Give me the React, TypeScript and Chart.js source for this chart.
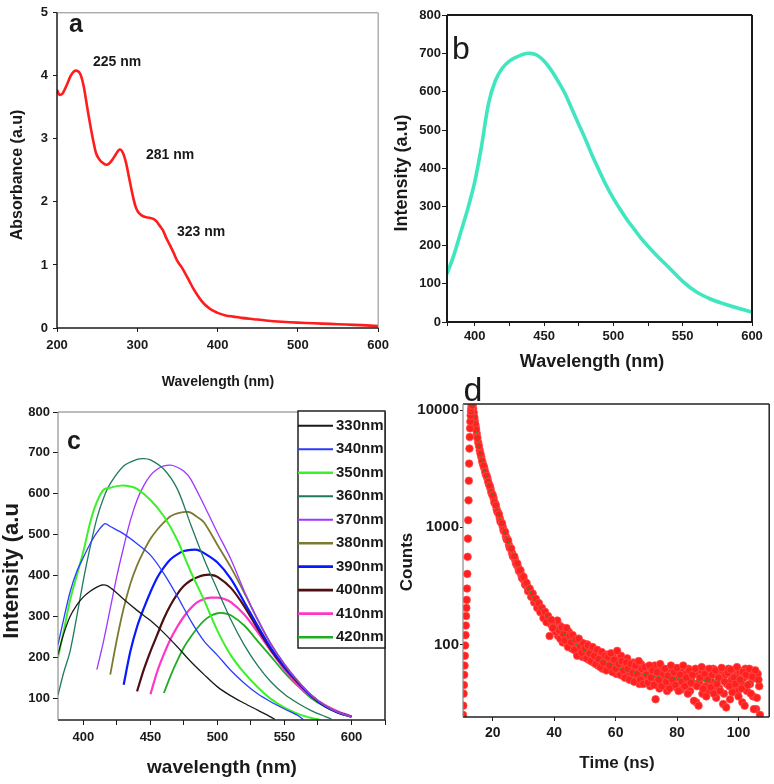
import React, { useEffect, useRef } from 'react';
import { Chart, registerables } from 'chart.js';
Chart.register(...registerables);

const FONT = '"Liberation Sans", Arial, Helvetica, sans-serif';

// ---------- Panel a: UV-Vis absorbance ----------
const absWavelength = [200, 203, 207, 212, 217, 221, 225, 229, 233, 237, 241, 245, 249, 253, 257, 261, 265, 269, 273, 278, 282, 286, 290, 294, 298, 301, 305, 310, 315, 320, 324, 328, 332, 336, 340, 345, 350, 355, 360, 365, 370, 375, 380, 385, 390, 395, 400, 410, 420, 430, 445, 460, 480, 500, 520, 540, 560, 580, 600];
const absValues = [3.78, 3.7, 3.72, 3.85, 4.0, 4.07, 4.08, 4.03, 3.85, 3.55, 3.25, 2.98, 2.76, 2.67, 2.62, 2.59, 2.61, 2.67, 2.75, 2.83, 2.78, 2.62, 2.37, 2.12, 1.92, 1.84, 1.79, 1.76, 1.75, 1.73, 1.69, 1.62, 1.55, 1.43, 1.33, 1.2, 1.06, 0.97, 0.86, 0.74, 0.62, 0.52, 0.43, 0.36, 0.31, 0.27, 0.24, 0.2, 0.18, 0.16, 0.14, 0.12, 0.1, 0.085, 0.075, 0.065, 0.055, 0.045, 0.03];
const absXTicks = [200, 300, 400, 500, 600];
const absYTicks = [0, 1, 2, 3, 4, 5];
const absPeakLabels = ['225 nm', '281 nm', '323 nm'];

// ---------- Panel b: emission spectrum ----------
const emWavelength = [380, 385, 390, 395, 400, 405, 410, 415, 420, 425, 430, 435, 440, 445, 450, 455, 460, 465, 470, 475, 480, 485, 490, 495, 500, 505, 510, 515, 520, 530, 540, 550, 560, 570, 580, 590, 600];
const emIntensity = [125, 175, 235, 295, 365, 460, 570, 630, 662, 680, 690, 698, 700, 695, 680, 657, 628, 596, 556, 515, 475, 432, 393, 355, 322, 293, 266, 242, 218, 178, 142, 106, 78, 60, 47, 36, 26];
const emXTicks = [380, 400, 425, 450, 475, 500, 525, 550, 575, 600];
const emXLabels = [400, 450, 500, 550, 600];
const emYTicks = [0, 100, 200, 300, 400, 500, 600, 700, 800];

// ---------- Panel c: excitation-dependent emission ----------
const exLabels = ['330nm', '340nm', '350nm', '360nm', '370nm', '380nm', '390nm', '400nm', '410nm', '420nm'];
const exColors = ['#1a1a1a', '#2b3dff', '#3cf02a', '#1f7a5c', '#a035ff', '#7c7a30', '#0818ff', '#4d0f12', '#ff35c8', '#1fae22'];
const exWidths = [1.3, 1.3, 2, 1.3, 1.3, 1.8, 2.2, 2.2, 2.2, 1.8];
const c330X = [381, 385, 390, 395, 400, 405, 410, 414, 418, 424, 430, 440, 450, 460, 470, 480, 490, 500, 510, 520, 530, 540, 543];
const c330Y = [207, 255, 300, 328, 348, 362, 372, 377, 375, 360, 342, 315, 290, 260, 226, 190, 158, 128, 106, 88, 71, 54, 48];
const c340X = [381, 385, 390, 395, 400, 405, 410, 416, 420, 430, 440, 450, 460, 470, 480, 490, 500, 510, 520, 530, 540, 550, 560, 564];
const c340Y = [231, 290, 360, 410, 445, 478, 505, 527, 520, 502, 478, 450, 405, 350, 290, 240, 205, 168, 137, 111, 91, 74, 58, 48];
const c350X = [381, 385, 390, 395, 400, 405, 410, 415, 420, 428, 435, 440, 450, 460, 470, 480, 490, 500, 510, 520, 530, 540, 550, 560, 570, 576];
const c350Y = [200, 260, 340, 400, 460, 530, 580, 610, 615, 620, 618, 612, 585, 545, 487, 410, 340, 265, 205, 162, 127, 98, 77, 62, 52, 48];
const c360X = [381, 385, 390, 395, 400, 405, 410, 415, 420, 430, 440, 445, 450, 460, 470, 480, 490, 500, 510, 520, 530, 540, 550, 560, 570, 580, 585];
const c360Y = [108, 160, 215, 300, 390, 470, 540, 590, 625, 668, 684, 686, 683, 660, 612, 525, 440, 365, 292, 230, 180, 140, 110, 88, 70, 56, 50];
const c370X = [410, 415, 420, 425, 430, 435, 440, 445, 450, 455, 460, 465, 470, 475, 480, 490, 500, 510, 520, 530, 540, 550, 560, 570, 580, 590, 600];
const c370Y = [170, 240, 320, 400, 470, 535, 585, 620, 645, 660, 668, 670, 665, 655, 636, 572, 505, 440, 362, 293, 232, 183, 142, 108, 83, 66, 55];
const c380X = [420, 425, 430, 435, 440, 445, 450, 455, 460, 465, 470, 476, 480, 485, 490, 500, 510, 520, 530, 540, 550, 560, 570, 580, 590, 600];
const c380Y = [158, 245, 320, 380, 425, 460, 490, 512, 530, 545, 552, 556, 554, 543, 530, 475, 420, 358, 292, 232, 183, 142, 108, 83, 66, 55];
const c390X = [430, 435, 440, 445, 450, 455, 460, 465, 470, 475, 480, 485, 490, 500, 510, 520, 530, 540, 550, 560, 570, 580, 590, 600];
const c390Y = [133, 215, 275, 320, 360, 395, 420, 440, 452, 460, 463, 463, 455, 432, 392, 335, 277, 222, 177, 140, 106, 81, 65, 55];
const c400X = [440, 445, 450, 455, 460, 465, 470, 475, 480, 485, 490, 495, 500, 510, 520, 530, 540, 550, 560, 570, 580, 590, 600];
const c400Y = [117, 170, 215, 255, 295, 328, 355, 375, 388, 396, 401, 402, 397, 370, 325, 270, 218, 175, 138, 106, 81, 65, 55];
const c410X = [450, 455, 460, 465, 470, 475, 480, 485, 490, 495, 500, 505, 510, 520, 530, 540, 550, 560, 570, 580, 590, 600];
const c410Y = [110, 165, 208, 245, 275, 300, 320, 335, 343, 346, 346, 343, 335, 305, 262, 215, 170, 132, 104, 84, 68, 56];
const c420X = [460, 465, 470, 475, 480, 485, 490, 495, 500, 505, 510, 520, 530, 540, 550, 560, 570, 580, 590, 600];
const c420Y = [113, 155, 192, 225, 250, 272, 290, 302, 308, 308, 303, 278, 240, 202, 163, 130, 100, 80, 66, 56];
const exXTicks = [400, 425, 450, 475, 500, 525, 550, 575, 600, 625];
const exXLabels = [400, 450, 500, 550, 600];
const exYTicks = [100, 200, 300, 400, 500, 600, 700, 800];

// ---------- Panel d: fluorescence decay ----------
const riseTime = [10.3, 10.4, 10.5, 10.6, 10.7, 10.8, 10.9, 11.0, 11.1, 11.2, 11.3, 11.4, 11.5, 11.6, 11.7, 11.8, 11.9, 12.0, 12.1, 12.2, 12.3, 12.4, 12.5, 12.6, 12.7, 12.8, 12.9, 13.0, 13.1, 13.2, 13.3];
const riseCounts = [25, 30, 38, 45, 55, 66, 80, 98, 120, 145, 175, 205, 240, 300, 400, 560, 800, 1150, 1700, 2500, 3500, 4700, 5900, 7000, 8000, 9000, 9800, 10400, 10900, 11100, 11000];
const decayTime = [13.4, 13.6, 13.8, 14.0, 14.3, 14.6, 15.0, 15.5, 16.0, 16.5, 17.0, 17.5, 18.0, 18.5, 19.0, 19.5, 20.0, 20.5, 21.0, 21.5, 22.0, 22.5, 23.0, 23.5, 24.0, 24.5, 25.0, 25.5, 26.0, 26.5, 27.0, 27.5, 28.0, 28.5, 29.0, 29.5, 30.0, 30.5, 31.0, 31.5, 32.0, 32.5, 33.0, 33.5, 34.0, 34.5, 35.0, 35.5, 36.0, 36.5, 37.0, 37.5, 38.0, 38.5, 39.0, 39.5];
const decayCounts = [10900, 10300, 9500, 8700, 7600, 6800, 5800, 4950, 4250, 3700, 3350, 2980, 2750, 2450, 2260, 2000, 1880, 1640, 1540, 1360, 1290, 1120, 1080, 940, 910, 790, 770, 670, 660, 570, 565, 495, 490, 425, 430, 370, 378, 325, 335, 285, 300, 255, 272, 228, 245, 205, 226, 188, 205, 168, 190, 155, 175, 118, 162, 138];
const decay2Time = [14.15, 14.45, 14.8, 15.25, 15.75, 16.25, 16.75, 17.25, 17.75, 18.25, 18.75, 19.25, 19.75, 20.25, 20.75, 21.25, 21.75, 22.25, 22.75, 23.25, 23.75, 24.25, 24.75, 25.25, 25.75, 26.25, 26.75, 27.25, 27.75, 28.25, 28.75, 29.25, 29.75, 30.25, 30.75, 31.25, 31.75, 32.25, 32.75, 33.25, 33.75, 34.25, 34.75, 35.25, 35.75, 36.25, 36.75, 37.25, 37.75, 38.25, 38.75, 39.25, 39.75];
const decay2Counts = [8100, 7200, 6300, 5300, 4550, 4000, 3500, 3200, 2820, 2630, 2330, 2150, 1920, 1780, 1600, 1430, 1330, 1200, 1100, 1010, 925, 840, 790, 710, 660, 605, 560, 530, 480, 455, 420, 395, 365, 350, 322, 310, 288, 282, 258, 250, 232, 228, 210, 205, 192, 190, 172, 176, 160, 164, 150, 154, 140];
const tailTime = [40.0, 40.5, 41.0, 41.5, 42.0, 42.5, 43.0, 43.5, 44.0, 44.5, 45.0, 45.5, 46.0, 46.5, 47.0, 47.5, 48.0, 48.5, 49.0, 49.5, 50.0, 50.5, 51.0, 51.5, 52.0, 52.5, 53.0, 53.5, 54.0, 54.5, 55.0, 55.5, 56.0, 56.5, 57.0, 57.5, 58.0, 58.5, 59.0, 59.5, 60.0, 60.5, 61.0, 61.5, 62.0, 62.5, 63.0, 63.5, 64.0, 64.5, 65.0, 65.5, 66.0, 66.5, 67.0, 67.5, 68.0, 68.5, 69.0, 69.5, 70.0, 70.5, 71.0, 71.5, 72.0, 72.5, 73.0, 73.5, 74.0, 74.5, 75.0, 75.5, 76.0, 76.5, 77.0, 77.5, 78.0, 78.5, 79.0, 79.5, 80.0, 80.5, 81.0, 81.5, 82.0, 82.5, 83.0, 83.5, 84.0, 84.5, 85.0, 85.5, 86.0, 86.5, 87.0, 87.5, 88.0, 88.5, 89.0, 89.5, 90.0, 90.5, 91.0, 91.5, 92.0, 92.5, 93.0, 93.5, 94.0, 94.5, 95.0, 95.5, 96.0, 96.5, 97.0, 97.5, 98.0, 98.5, 99.0, 99.5, 100.0, 100.5, 101.0, 101.5, 102.0, 102.5, 103.0, 103.5, 104.0, 104.5, 105.0, 105.5, 106.0, 106.5, 107.0];
const tailCounts = [150, 128, 160, 133, 112, 140, 122, 108, 138, 95, 118, 104, 120, 90, 110, 80, 112, 96, 85, 102, 92, 76, 98, 84, 72, 95, 80, 68, 90, 75, 64, 86, 70, 80, 60, 78, 66, 84, 58, 74, 62, 88, 68, 55, 72, 60, 52, 70, 62, 50, 68, 57, 48, 66, 56, 72, 50, 62, 46, 64, 55, 47, 66, 52, 60, 45, 34, 58, 50, 68, 44, 56, 62, 48, 54, 42, 66, 50, 58, 45, 63, 40, 55, 48, 66, 44, 52, 38, 60, 47, 55, 33, 62, 44, 30, 52, 64, 42, 56, 36, 50, 62, 43, 55, 38, 60, 46, 52, 40, 63, 31, 48, 29, 57, 44, 61, 39, 52, 46, 64, 36, 50, 42, 58, 30, 55, 45, 62, 38, 53, 28, 60, 35, 50, 25];
const tail2Time = [40.25, 40.75, 41.25, 41.75, 42.25, 42.75, 43.25, 43.75, 44.25, 44.75, 45.25, 45.75, 46.25, 46.75, 47.25, 47.75, 48.25, 48.75, 49.25, 49.75, 50.25, 50.75, 51.25, 51.75, 52.25, 52.75, 53.25, 53.75, 54.25, 54.75, 55.25, 55.75, 56.25, 56.75, 57.25, 57.75, 58.25, 58.75, 59.25, 59.75, 60.25, 60.75, 61.25, 61.75, 62.25, 62.75, 63.25, 63.75, 64.25, 64.75, 65.25, 65.75, 66.25, 66.75, 67.25, 67.75, 68.25, 68.75, 69.25, 69.75, 70.25, 70.75, 71.25, 71.75, 72.25, 72.75, 73.25, 73.75, 74.25, 74.75, 75.25, 75.75, 76.25, 76.75, 77.25, 77.75, 78.25, 78.75, 79.25, 79.75, 80.25, 80.75, 81.25, 81.75, 82.25, 82.75, 83.25, 83.75, 84.25, 84.75, 85.25, 85.75, 86.25, 86.75, 87.25, 87.75, 88.25, 88.75, 89.25, 89.75, 90.25, 90.75, 91.25, 91.75, 92.25, 92.75, 93.25, 93.75, 94.25, 94.75, 95.25, 95.75, 96.25, 96.75, 97.25, 97.75, 98.25, 98.75, 99.25, 99.75, 100.25, 100.75, 101.25, 101.75, 102.25, 102.75, 103.25, 103.75, 104.25, 104.75, 105.25, 105.75, 106.25, 106.75];
const tail2Counts = [135, 152, 118, 145, 126, 104, 132, 115, 100, 128, 108, 92, 112, 100, 86, 106, 88, 104, 78, 94, 84, 100, 74, 90, 80, 70, 88, 76, 66, 84, 72, 62, 78, 68, 82, 64, 74, 60, 78, 66, 56, 74, 63, 80, 54, 68, 58, 76, 56, 64, 50, 70, 60, 52, 64, 46, 68, 54, 60, 48, 62, 56, 44, 60, 52, 66, 48, 55, 42, 60, 51, 46, 58, 40, 62, 52, 46, 56, 62, 43, 52, 58, 41, 60, 50, 56, 45, 62, 40, 53, 58, 46, 32, 56, 48, 60, 38, 52, 44, 61, 40, 54, 48, 62, 44, 35, 57, 42, 52, 60, 38, 55, 46, 62, 34, 50, 58, 44, 54, 40, 60, 47, 32, 52, 62, 40, 54, 46, 60, 36, 52, 28, 56, 44];
const fitTime = [13.2, 14, 15, 16, 17, 18, 20, 22, 24, 26, 28, 30, 33, 36, 40, 45, 50, 55, 60, 70, 80, 90, 100, 107];
const fitCounts = [10800, 8600, 5800, 4200, 3300, 2700, 1850, 1280, 890, 645, 475, 365, 255, 195, 145, 112, 88, 74, 64, 55, 51, 49, 48, 48];
const decayXTicks = [20, 40, 60, 80, 100];
const decayYTicks = [100, 1000, 10000];

// ---------- helpers ----------
function pts(xs: number[], ys: number[]) {
  return xs.map((x, i) => ({ x, y: ys[i] }));
}

function axis(o: any) {
  return {
    type: o.type || 'linear',
    min: o.min,
    max: o.max,
    afterBuildTicks: (s: any) => {
      s.ticks = o.ticks.map((v: number) => ({ value: v }));
    },
    afterFit: (s: any) => {
      if (o.dir === 'x') s.height = o.fixed;
      else s.width = o.fixed;
    },
    grid: { display: true, drawOnChartArea: false, drawTicks: true, tickLength: o.tickLen, color: '#1a1a1a', lineWidth: 1 },
    border: { display: false },
    ticks: {
      padding: o.pad,
      autoSkip: false,
      maxRotation: 0,
      minRotation: 0,
      color: '#1a1a1a',
      font: { family: FONT, size: o.fontSize, weight: 'bold' },
      callback: (v: any) => (o.label ? o.label(Number(v)) : String(v)),
    },
  };
}

function line(ctx: any, x1: number, y1: number, x2: number, y2: number, color: string, width: number) {
  ctx.save();
  ctx.beginPath();
  ctx.strokeStyle = color;
  ctx.lineWidth = width;
  ctx.moveTo(x1, y1);
  ctx.lineTo(x2, y2);
  ctx.stroke();
  ctx.restore();
}

function frame(ctx: any, a: any, c: string[], w: number[]) {
  line(ctx, a.left, a.top, a.right, a.top, c[0], w[0]);
  line(ctx, a.right, a.top, a.right, a.bottom, c[1], w[1]);
  line(ctx, a.left, a.bottom, a.right, a.bottom, c[2], w[2]);
  line(ctx, a.left, a.top, a.left, a.bottom, c[3], w[3]);
}

function text(ctx: any, s: string, x: number, y: number, font: string, opts: any = {}) {
  ctx.save();
  ctx.font = font;
  ctx.fillStyle = opts.color || '#1a1a1a';
  ctx.textAlign = opts.align || 'center';
  ctx.textBaseline = 'middle';
  ctx.translate(x, y);
  if (opts.rotate) ctx.rotate(-Math.PI / 2);
  ctx.fillText(s, 0, 0);
  ctx.restore();
}

function baseOptions(padTop: number, padRight: number, scales: any) {
  return {
    animation: false,
    responsive: false,
    events: [],
    layout: { padding: { top: padTop, right: padRight, left: 0, bottom: 0 } },
    plugins: { legend: { display: false }, tooltip: { enabled: false }, title: { display: false } },
    scales,
  };
}

// ---------- chart configs ----------
function configA(): any {
  return {
    type: 'scatter',
    data: {
      datasets: [
        { data: pts(absWavelength, absValues), showLine: true, borderColor: '#ff1c1c', borderWidth: 2.6, pointRadius: 0, tension: 0.3, fill: false },
      ],
    },
    options: baseOptions(10, 14, {
      x: axis({ min: 200, max: 600, ticks: absXTicks, dir: 'x', fixed: 67, tickLen: 4, pad: 6, fontSize: 13 }),
      y: axis({ min: 0, max: 5, ticks: absYTicks, dir: 'y', fixed: 57, tickLen: 4, pad: 5, fontSize: 13 }),
    }),
    plugins: [
      {
        id: 'decoA',
        afterDraw(chart: any) {
          const ctx = chart.ctx;
          const a = chart.chartArea;
          frame(ctx, a, ['#8a8a8a', '#8a8a8a', '#1a1a1a', '#1a1a1a'], [1, 1, 1.5, 1.5]);
          text(ctx, 'a', 76, 25, `bold 25px ${FONT}`);
          text(ctx, absPeakLabels[0], 93, 62, `bold 14px ${FONT}`, { align: 'left' });
          text(ctx, absPeakLabels[1], 146, 155, `bold 14px ${FONT}`, { align: 'left' });
          text(ctx, absPeakLabels[2], 177, 232, `bold 14px ${FONT}`, { align: 'left' });
          text(ctx, 'Wavelength (nm)', 218, 382, `bold 14px ${FONT}`);
          text(ctx, 'Absorbance (a.u)', 18, 175, `bold 16px ${FONT}`, { rotate: true });
        },
      },
    ],
  };
}

function configB(): any {
  return {
    type: 'scatter',
    data: {
      datasets: [
        { data: pts(emWavelength, emIntensity), showLine: true, borderColor: '#3fe6bf', borderWidth: 3.6, pointRadius: 0, tension: 0.35, fill: false },
      ],
    },
    options: baseOptions(15, 22, {
      x: axis({ min: 380, max: 600, ticks: emXTicks, label: (v: number) => (emXLabels.includes(v) ? String(v) : ''), dir: 'x', fixed: 58, tickLen: 4, pad: 3, fontSize: 13 }),
      y: axis({ min: 0, max: 800, ticks: emYTicks, dir: 'y', fixed: 62, tickLen: 5, pad: 1, fontSize: 13 }),
    }),
    plugins: [
      {
        id: 'decoB',
        afterDraw(chart: any) {
          const ctx = chart.ctx;
          const a = chart.chartArea;
          frame(ctx, a, ['#1a1a1a', '#1a1a1a', '#1a1a1a', '#1a1a1a'], [2, 2, 2, 2]);
          text(ctx, 'b', 76, 50, `32px ${FONT}`);
          text(ctx, 'Wavelength (nm)', 207, 362, `bold 18px ${FONT}`);
          text(ctx, 'Intensity (a.u)', 17, 173, `bold 18px ${FONT}`, { rotate: true });
        },
      },
    ],
  };
}

function configC(): any {
  const xs = [c330X, c340X, c350X, c360X, c370X, c380X, c390X, c400X, c410X, c420X];
  const ys = [c330Y, c340Y, c350Y, c360Y, c370Y, c380Y, c390Y, c400Y, c410Y, c420Y];
  const datasets = exLabels.map((label, i) => ({
    label,
    data: pts(xs[i], ys[i]),
    showLine: true,
    borderColor: exColors[i],
    borderWidth: exWidths[i],
    pointRadius: 0,
    tension: 0.3,
    fill: false,
  }));
  return {
    type: 'scatter',
    data: { datasets },
    options: baseOptions(27, 10, {
      x: axis({ min: 381, max: 625, ticks: exXTicks, label: (v: number) => (exXLabels.includes(v) ? String(v) : ''), dir: 'x', fixed: 64, tickLen: 5, pad: 5, fontSize: 13 }),
      y: axis({ min: 47, max: 800, ticks: exYTicks, dir: 'y', fixed: 58, tickLen: 5, pad: 3, fontSize: 13 }),
    }),
    plugins: [
      {
        id: 'decoC',
        afterDraw(chart: any) {
          const ctx = chart.ctx;
          const a = chart.chartArea;
          frame(ctx, a, ['#7a7a7a', '#222', '#222', '#7a7a7a'], [1, 1.5, 1.5, 1]);
          const L = 298, T = a.top - 1, R = a.right, B = 263;
          ctx.save();
          ctx.fillStyle = '#fff';
          ctx.fillRect(L, T, R - L, B - T);
          ctx.strokeStyle = '#222';
          ctx.lineWidth = 1.5;
          ctx.strokeRect(L, T, R - L, B - T);
          ctx.restore();
          exLabels.forEach((lab, i) => {
            const y = 40.7 + i * 23.5;
            line(ctx, L, y, 333, y, exColors[i], exWidths[i] + 0.6);
            text(ctx, lab, 336, y, `bold 15px ${FONT}`, { align: 'left' });
          });
          text(ctx, 'c', 74, 57, `bold 25px ${FONT}`);
          text(ctx, 'wavelength (nm)', 222, 383, `bold 19px ${FONT}`);
          text(ctx, 'Intensity (a.u', 12, 186, `bold 22px ${FONT}`, { rotate: true });
        },
      },
    ],
  };
}

function configD(): any {
  const marker = { showLine: false, pointRadius: 3.8, pointBackgroundColor: '#ff2020', pointBorderColor: 'rgba(255,80,80,0.9)', pointBorderWidth: 0.8 };
  return {
    type: 'scatter',
    data: {
      datasets: [
        { data: pts(fitTime, fitCounts), showLine: true, borderColor: '#1c9a1c', borderWidth: 1, borderDash: [2, 3], pointRadius: 0, tension: 0.3, fill: false },
        { data: pts(riseTime, riseCounts), ...marker },
        { data: pts(decayTime, decayCounts), ...marker },
        { data: pts(decay2Time, decay2Counts), ...marker },
        { data: pts(tailTime, tailCounts), ...marker },
        { data: pts(tail2Time, tail2Counts), ...marker },
      ],
    },
    options: baseOptions(29, 3, {
      x: axis({ min: 10.3, max: 110, ticks: decayXTicks, dir: 'x', fixed: 67, tickLen: 4, pad: 4, fontSize: 14 }),
      y: axis({ type: 'logarithmic', min: 24, max: 11300, ticks: decayYTicks, dir: 'y', fixed: 78, tickLen: 3, pad: 1, fontSize: 15 }),
    }),
    plugins: [
      {
        id: 'decoD',
        afterDraw(chart: any) {
          const ctx = chart.ctx;
          const a = chart.chartArea;
          frame(ctx, a, ['#222', '#222', '#222', '#8a8a8a'], [1.5, 1.5, 1.5, 1.2]);
          text(ctx, 'd', 88, 17, `34px ${FONT}`);
          text(ctx, 'Time (ns)', 232, 388, `bold 17px ${FONT}`);
          text(ctx, 'Counts', 22, 187, `bold 17px ${FONT}`, { rotate: true });
        },
      },
    ],
  };
}

function Panel(props: { left: number; top: number; width: number; height: number; config: () => any }) {
  const ref = useRef<HTMLCanvasElement | null>(null);
  useEffect(() => {
    if (!ref.current) return;
    const chart = new Chart(ref.current, props.config());
    return () => chart.destroy();
  }, []);
  return (
    <canvas
      ref={ref}
      width={props.width}
      height={props.height}
      style={{ position: 'absolute', left: props.left, top: props.top, width: props.width, height: props.height }}
    />
  );
}

export default function App() {
  return (
    <div style={{ position: 'absolute', left: 0, top: 0, width: 774, height: 784, background: '#fff', overflow: 'hidden' }}>
      <Panel left={0} top={0} width={395} height={395} config={configA} />
      <Panel left={385} top={0} width={389} height={380} config={configB} />
      <Panel left={0} top={385} width={395} height={399} config={configC} />
      <Panel left={385} top={375} width={389} height={409} config={configD} />
    </div>
  );
}
